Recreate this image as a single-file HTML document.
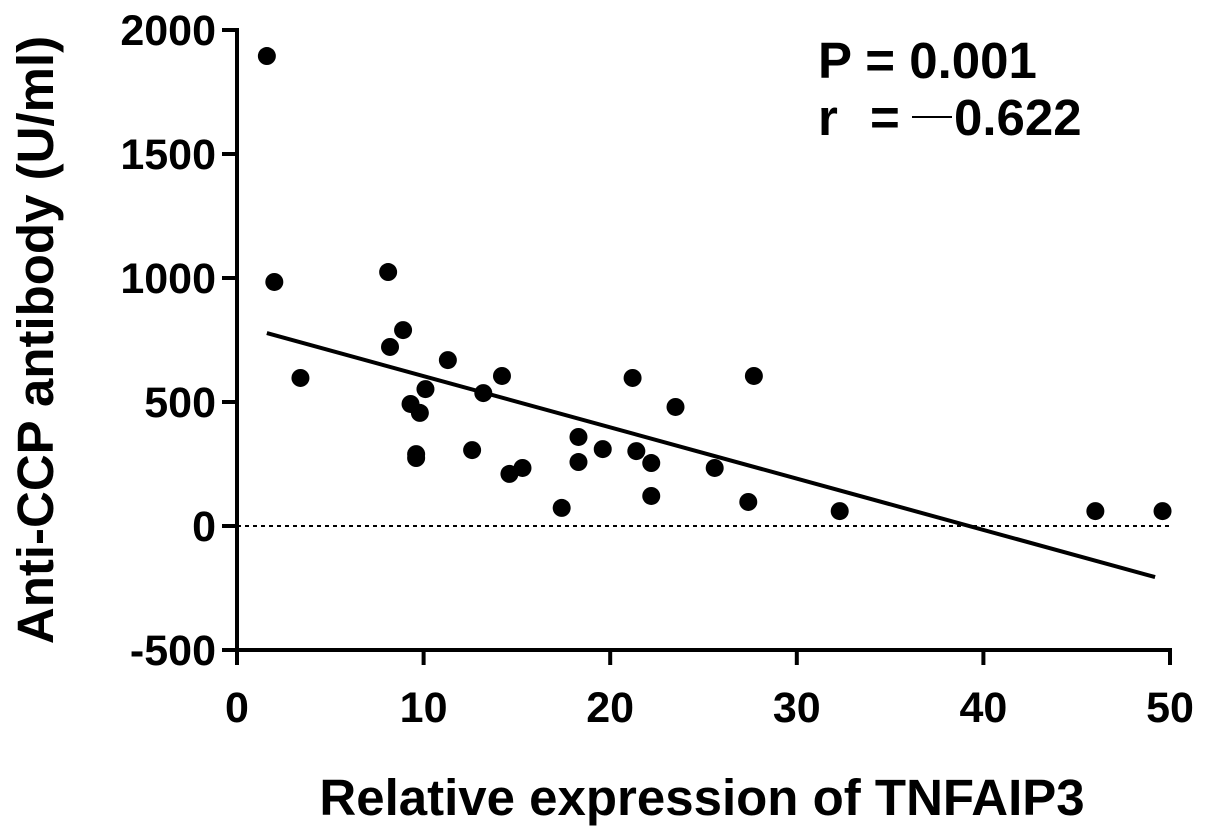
<!DOCTYPE html>
<html><head><meta charset="utf-8"><style>
body{margin:0;background:#fff}
svg text{font-family:"Liberation Sans",Arial,sans-serif;font-weight:bold;fill:#000}
</style></head><body>
<svg id="chart" width="1205" height="833" viewBox="0 0 1205 833" xmlns="http://www.w3.org/2000/svg">
<g id="axes"></g>
<g id="marks"></g>
<text x="818" y="78" font-size="51">P = 0.001</text>
<g>
<text x="818" y="135" font-size="51">r</text>
<text x="870" y="135" font-size="51">=</text>
<line x1="912" y1="117" x2="952" y2="117" stroke="#000" stroke-width="2"/>
<text x="954" y="135" font-size="51">0.622</text>
</g>
<text x="702" y="815" font-size="51" text-anchor="middle">Relative expression of TNFAIP3</text>
<text transform="translate(53,340) rotate(-90)" font-size="51" text-anchor="middle">Anti-CCP antibody (U/ml)</text>
</svg>
<script>
const xVals=[1.6,2.0,3.4,8.1,8.2,8.9,9.3,9.6,9.6,9.8,10.1,11.3,12.6,13.2,14.2,14.6,15.3,17.4,18.3,18.3,19.6,21.2,21.4,22.2,22.2,23.5,25.6,27.4,27.7,32.3,46.0,49.6];
const yVals=[1895,984,597,1024,722,790,492,290,274,456,552,669,306,536,605,210,234,73,359,258,310,597,302,254,121,480,234,97,605,60,60,60];
const xTicks=[0,10,20,30,40,50];
const yTicks=[-500,0,500,1000,1500,2000];
const fitRange=[1.6,49.2];
const fitCoef=[811,-20.67];
const NS="http://www.w3.org/2000/svg";
const sx=v=>237+v*18.66;
const sy=v=>526-v*0.248;
function mk(tag,attrs,parent){const e=document.createElementNS(NS,tag);for(const k in attrs)e.setAttribute(k,attrs[k]);parent.appendChild(e);return e;}
const axes=document.getElementById('axes'),marks=document.getElementById('marks');
let a=mk('line',{x1:237,y1:sy(2000)-2,x2:237,y2:sy(-500)+2,stroke:'#000','stroke-width':4},axes);


a=mk('line',{x1:235,y1:sy(-500),x2:sx(50)+2,y2:sy(-500),stroke:'#000','stroke-width':4},axes);


yTicks.forEach(t=>{
 const l=mk('line',{x1:222,y1:sy(t),x2:237,y2:sy(t),stroke:'#000','stroke-width':4},axes);
 
 
 const tx=mk('text',{x:216,y:sy(t)+15,'font-size':43,'text-anchor':'end'},axes);tx.textContent=t;
 
 
});
xTicks.forEach(t=>{
 const l=mk('line',{x1:sx(t),y1:sy(-500),x2:sx(t),y2:sy(-500)+15,stroke:'#000','stroke-width':4},axes);
 
 
 const tx=mk('text',{x:sx(t),y:sy(-500)+72,'font-size':43,'text-anchor':'middle'},axes);tx.textContent=t;
 
 
});
const z=mk('line',{x1:237,y1:sy(0),x2:sx(50),y2:sy(0),stroke:'#000','stroke-width':2,'stroke-dasharray':'4,4'},axes);


const f=mk('line',{x1:sx(fitRange[0]),y1:sy(fitCoef[0]+fitCoef[1]*fitRange[0]),x2:sx(fitRange[1]),y2:sy(fitCoef[0]+fitCoef[1]*fitRange[1]),stroke:'#000','stroke-width':4},marks);


xVals.forEach((x,i)=>{
 const c=mk('circle',{cx:sx(x),cy:sy(yVals[i]),r:9,fill:'#000'},marks);
 
 
});
</script>
</body></html>
